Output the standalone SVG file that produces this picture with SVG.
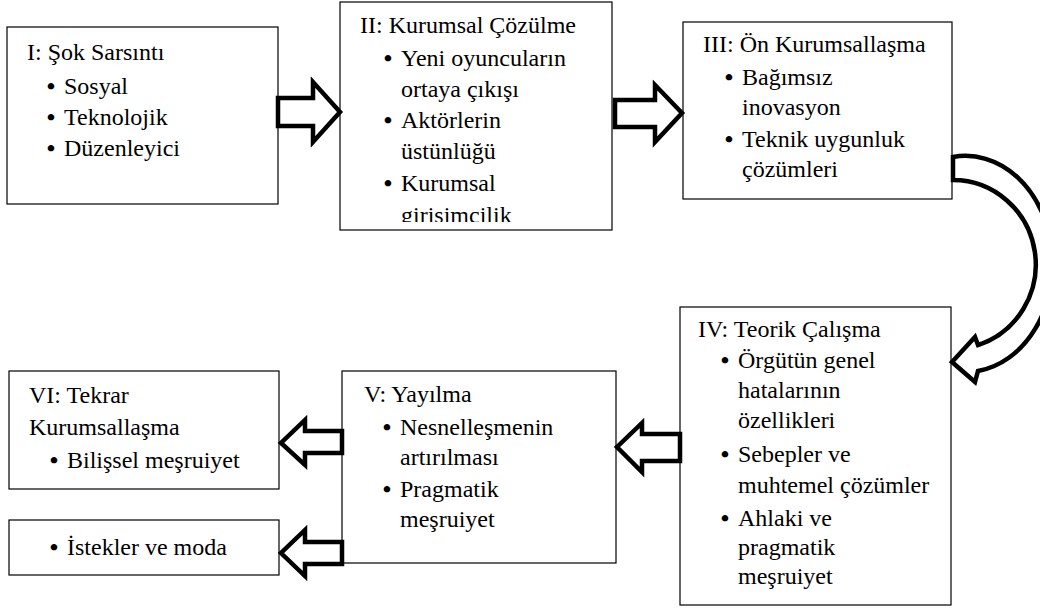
<svg xmlns="http://www.w3.org/2000/svg" width="1040" height="610" viewBox="0 0 1040 610">
<defs>
<style>
.box{fill:#fff;stroke:#000;stroke-width:1.2}
text{font-family:'Liberation Serif','Times New Roman',serif;font-size:24px;fill:#000}
.b{text-anchor:middle;font-weight:bold}
.arr{fill:#fff;stroke:#000;stroke-width:4.5;stroke-linejoin:miter;stroke-miterlimit:10}
</style>
<clipPath id="clip2"><rect x="340" y="2" width="272" height="220"/></clipPath>
</defs>
<rect width="1040" height="610" fill="#fff"/>

<g id="node-I">
<rect class="box" x="7" y="27" width="271" height="177"/>
<text x="27" y="60">I: Şok Sarsıntı</text>
<text class="b" x="51" y="94">•</text><text x="64" y="94">Sosyal</text>
<text class="b" x="51" y="125">•</text><text x="64" y="125">Teknolojik</text>
<text class="b" x="51" y="156">•</text><text x="64" y="156">Düzenleyici</text>
</g>

<g id="node-II">
<rect class="box" x="340" y="2" width="272" height="228"/>
<g clip-path="url(#clip2)">
<text x="360" y="33">II: Kurumsal Çözülme</text>
<text class="b" x="388" y="66">•</text><text x="401" y="66">Yeni oyuncuların</text>
<text x="401" y="97">ortaya çıkışı</text>
<text class="b" x="388" y="128">•</text><text x="401" y="128">Aktörlerin</text>
<text x="401" y="159">üstünlüğü</text>
<text class="b" x="388" y="191">•</text><text x="401" y="191">Kurumsal</text>
<text x="401" y="223">girisimcilik</text>
</g>
</g>

<g id="node-III">
<rect class="box" x="683" y="22" width="269" height="177"/>
<text x="703" y="52">III: Ön Kurumsallaşma</text>
<text class="b" x="729" y="85">•</text><text x="742" y="85">Bağımsız</text>
<text x="742" y="115">inovasyon</text>
<text class="b" x="729" y="147">•</text><text x="742" y="147">Teknik uygunluk</text>
<text x="742" y="177">çözümleri</text>
</g>

<g id="node-IV">
<rect class="box" x="680" y="307" width="271" height="298"/>
<text x="698" y="337">IV: Teorik Çalışma</text>
<text class="b" x="725" y="368">•</text><text x="738" y="368">Örgütün genel</text>
<text x="738" y="398">hatalarının</text>
<text x="738" y="428">özellikleri</text>
<text class="b" x="725" y="462">•</text><text x="738" y="462">Sebepler ve</text>
<text x="738" y="493">muhtemel çözümler</text>
<text class="b" x="725" y="526">•</text><text x="738" y="526">Ahlaki ve</text>
<text x="738" y="555">pragmatik</text>
<text x="738" y="584">meşruiyet</text>
</g>

<g id="node-V">
<rect class="box" x="342" y="371" width="274" height="192"/>
<text x="364" y="402">V: Yayılma</text>
<text class="b" x="387" y="435">•</text><text x="400" y="435">Nesnelleşmenin</text>
<text x="400" y="465">artırılması</text>
<text class="b" x="387" y="497">•</text><text x="400" y="497">Pragmatik</text>
<text x="400" y="527">meşruiyet</text>
</g>

<g id="node-VI">
<rect class="box" x="9" y="371" width="270" height="118"/>
<text x="29" y="403">VI: Tekrar</text>
<text x="29" y="435">Kurumsallaşma</text>
<text class="b" x="54" y="468">•</text><text x="67" y="468">Bilişsel meşruiyet</text>
</g>

<g id="node-VII">
<rect class="box" x="9" y="520" width="270" height="55"/>
<text class="b" x="54" y="555">•</text><text x="67" y="555">İstekler ve moda</text>
</g>

<g id="connectors">
<path class="arr" d="M278,98 H313 V82 L340,112 L313,142 V126 H278 Z"/>
<path class="arr" d="M615,100 H655 V85 L682,113 L655,142 V127 H615 Z"/>
<path class="arr" d="M953,157 A87,108 0 0 1 978,371 L975,382 L952,362 L975,337 L978,345 A83,84.5 0 0 0 953,180 Z"/>
<path class="arr" d="M680,434 H642 V423 L617,447 L642,472 V461 H680 Z"/>
<path class="arr" d="M342,431 H305 V420 L281,443 L305,465 V453 H342 Z"/>
<path class="arr" d="M342,542 H305 V530 L281,553 L305,576 V564 H342 Z"/>
</g>
</svg>
